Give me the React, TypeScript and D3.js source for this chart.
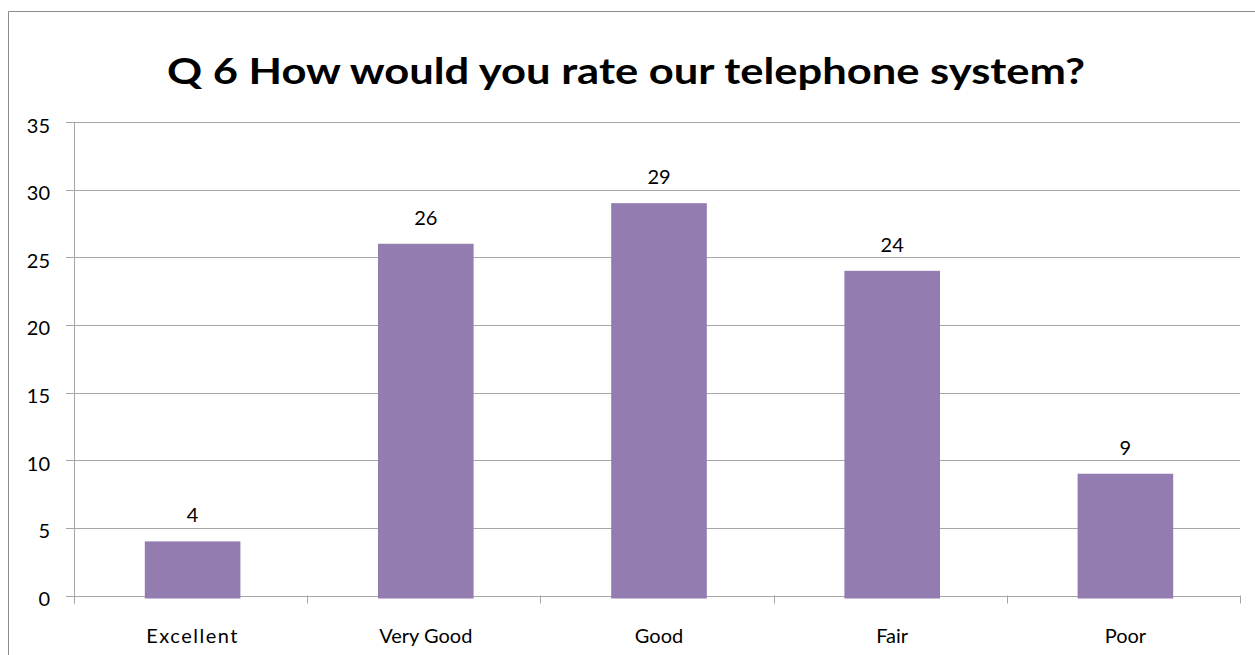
import React from "react";
import * as d3 from "d3";

const categories = ["Excellent", "Very Good", "Good", "Fair", "Poor"];
const values = [4, 26, 29, 24, 9];
const yTicks = [0, 5, 10, 15, 20, 25, 30, 35];
const title = "Q 6 How would you rate our telephone system?";

export default function App() {
  const W = 1255, H = 655;
  const left = 74, right = 1240, top = 122, bottom = 595.5;
  const x = d3.scaleBand().domain(categories).range([left, right]).paddingInner(0.59).paddingOuter(0.295);
  const band = d3.scaleBand().domain(categories).range([left, right]);
  const y = d3.scaleLinear().domain([0, 35]).range([bottom, top]);
  const font = "Lato, 'Open Sans', sans-serif";
  const grid = "#A6A6A6";
  return (
    <svg width={W} height={H} style={{ position: "absolute", left: 0, top: 0, background: "#fff" }}>
      <rect x={0} y={0} width={W} height={H} fill="#fff" />
      <path d={`M8.5,${H + 2} V11.5 H${W + 2}`} fill="none" stroke="#8C8C8C" strokeWidth={1} />
      <text x={626} y={84} textAnchor="middle" fontFamily={font} fontWeight="bold" fontSize={37}
        textLength={918} lengthAdjust="spacingAndGlyphs" fill="#000">{title}</text>
      {yTicks.map((t) => (
        <g key={t}>
          <line x1={66} x2={right} y1={Math.round(y(t)) + 0.5} y2={Math.round(y(t)) + 0.5} stroke={grid} strokeWidth={1} />
          <text x={50} y={y(t) + 10.5} textAnchor="end" fontFamily={font} fontSize={20} fill="#000">{t}</text>
        </g>
      ))}
      <line x1={left + 0.5} x2={left + 0.5} y1={top} y2={bottom + 8} stroke={grid} />
      {categories.map((c, i) => (
        <line key={"t" + i} x1={Math.round(band(c)!) + 0.5} x2={Math.round(band(c)!) + 0.5} y1={bottom} y2={bottom + 8} stroke={grid} />
      ))}
      <line x1={right + 0.5} x2={right + 0.5} y1={bottom} y2={bottom + 8} stroke={grid} />
      {categories.map((c, i) => (
        <g key={c}>
          <rect x={x(c)! + 2} y={y(values[i])} width={x.bandwidth()} height={y(0) - y(values[i]) + 3} fill="#937CB0" />
          <text x={x(c)! + 2 + x.bandwidth() / 2} y={y(values[i]) - 19} textAnchor="middle" fontFamily={font} fontSize={20} fill="#000">{values[i]}</text>
          <text x={band(c)! + band.bandwidth() / 2 + 2} y={643} textAnchor="middle" fontFamily={font} fontSize={20} fill="#000"
            letterSpacing={c === "Excellent" ? 1.5 : 0}>{c}</text>
        </g>
      ))}
    </svg>
  );
}
